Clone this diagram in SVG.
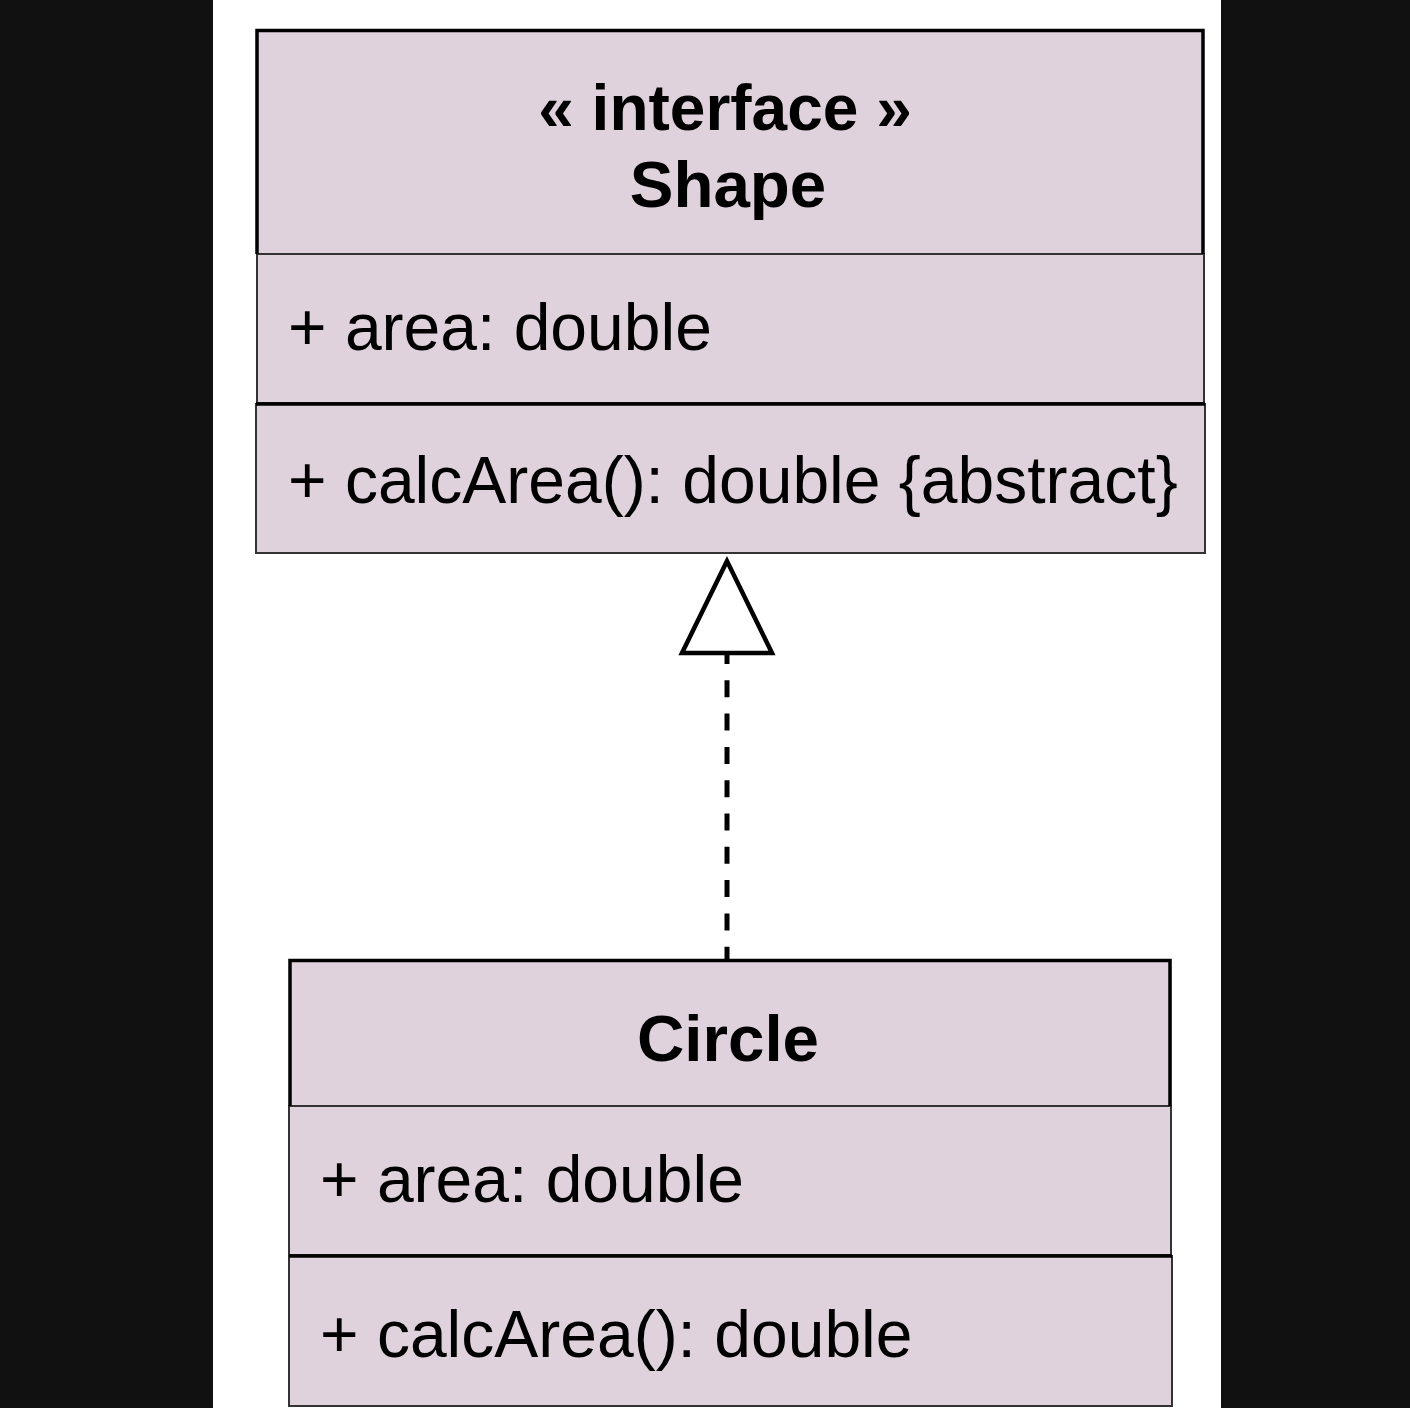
<svg xmlns="http://www.w3.org/2000/svg" width="1410" height="1408" viewBox="0 0 1410 1408">
<style>
.cell{fill:#dfd2dc;}
.thick{fill:none;stroke:#000;stroke-width:3.5;}
.thin{fill:none;stroke:#333;stroke-width:2;}
.t{font-family:"Liberation Sans",Arial,Helvetica,sans-serif;font-size:66px;fill:#000;}
.b{font-weight:bold;text-anchor:middle;font-size:65.5px;}
</style>
<rect x="0" y="0" width="1410" height="1408" fill="#111111"/>
<rect x="213" y="0" width="1008" height="1408" fill="#ffffff"/>
<g id="shape">
<rect class="cell" x="257" y="30" width="947" height="523"/>
<rect class="thin" x="257" y="254" width="947" height="149"/>
<rect class="thin" x="256" y="404" width="949" height="149"/>
<path class="thick" d="M257 254 V30.5 H1203 V254"/>
<line class="thick" x1="256" y1="404" x2="1205" y2="404"/>
<text class="t b" x="725" y="130" style="font-size:64px">« interface »</text>
<text class="t b" x="728" y="207">Shape</text>
<text class="t" x="288" y="350">+ area: double</text>
<text class="t" x="288" y="503">+ calcArea(): double {abstract}</text>
</g>
<g id="circle">
<rect class="cell" x="289" y="960" width="883" height="447"/>
<rect class="thin" x="289" y="1106" width="882" height="149"/>
<rect class="thin" x="289" y="1256" width="883" height="150"/>
<path class="thick" d="M290 1106 V960.5 H1170 V1106"/>
<line class="thick" x1="289" y1="1256" x2="1172" y2="1256"/>
<text class="t b" x="728" y="1061">Circle</text>
<text class="t" x="320" y="1202">+ area: double</text>
<text class="t" x="320" y="1357">+ calcArea(): double</text>
</g>
<g id="connectors">
<line x1="727" y1="647" x2="727" y2="959" stroke="#000" stroke-width="5" stroke-dasharray="17 16.3"/>
<polygon points="727,561 682,653 772,653" fill="#ffffff" stroke="#000" stroke-width="4.5" stroke-linejoin="miter"/>
</g>
</svg>
